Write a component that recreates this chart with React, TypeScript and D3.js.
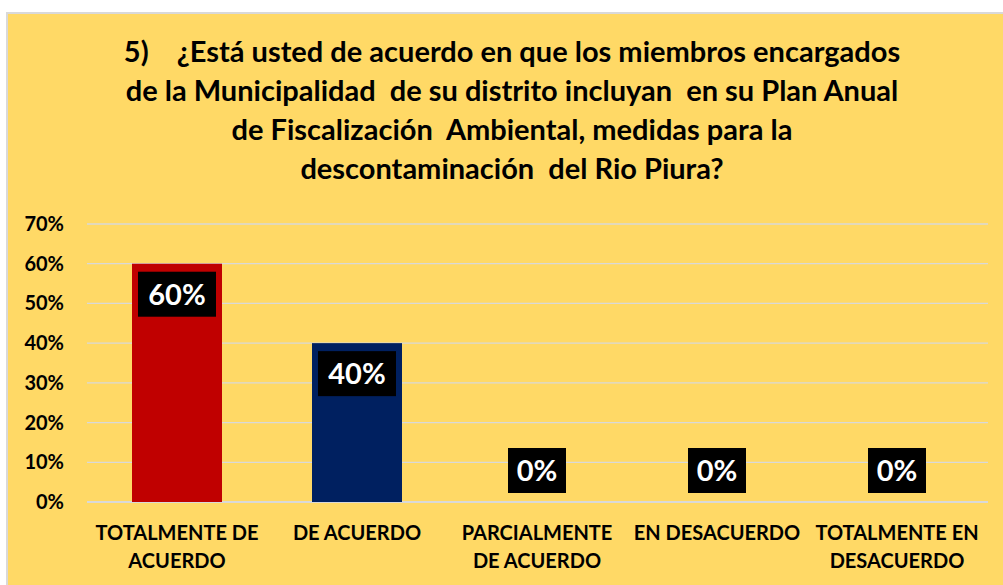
import * as React from 'react';
import * as d3 from 'd3';

const titleLines = [
  '5)    ¿Está usted de acuerdo en que los miembros encargados',
  'de la Municipalidad  de su distrito incluyan  en su Plan Anual',
  'de Fiscalización  Ambiental, medidas para la',
  'descontaminación  del Rio Piura?',
];
const categories = [
  ['TOTALMENTE DE', 'ACUERDO'],
  ['DE ACUERDO'],
  ['PARCIALMENTE', 'DE ACUERDO'],
  ['EN DESACUERDO'],
  ['TOTALMENTE EN', 'DESACUERDO'],
];
const values = [0.6, 0.4, 0, 0, 0];
const barColors = ['#C00000', '#002060', '#C00000', '#C00000', '#C00000'];
const ticks = [0, 0.1, 0.2, 0.3, 0.4, 0.5, 0.6, 0.7];

const W = 1003;
const H = 585;
const font = 'Lato, Calibri, "Liberation Sans", sans-serif';

const App: React.FC = () => {
  const left = 87;
  const right = 987;
  const top = 224;
  const bottom = 502;

  const x = d3.scaleBand<number>()
    .domain(categories.map((_, i) => i))
    .range([left, right])
    .paddingInner(0.5)
    .paddingOuter(0.25);
  const y = d3.scaleLinear().domain([0, 0.7]).range([bottom, top]);
  const fmt = d3.format('.0%');

  return (
    <svg width={W} height={H} style={{ position: 'absolute', left: 0, top: 0 }}>
      <rect x={0} y={0} width={W} height={H} fill="#fff" />
      <rect x={7} y={13} width={W} height={H} fill="#FFD966" stroke="#D9D9D9" strokeWidth={2} />
      {titleLines.map((t, i) => (
        <text key={i} x={512} y={62 + i * 39} textAnchor="middle" fontFamily={font}
          fontWeight={700} fontSize={29} fill="#000" style={{ whiteSpace: 'pre' }}>{t}</text>
      ))}
      {ticks.map(t => (
        <g key={t}>
          <line x1={left} x2={right + 1} y1={y(t)} y2={y(t)} stroke="#D9D9D9" strokeWidth={t === 0 ? 2 : 1.3} />
          <text x={64} y={y(t) + 7} textAnchor="end" fontFamily={font} fontWeight={700}
            fontSize={20} fill="#000">{fmt(t)}</text>
        </g>
      ))}
      {values.map((v, i) => {
        const bx = x(i)!;
        const bw = x.bandwidth();
        const cx = bx + bw / 2;
        const label = fmt(v);
        const boxW = label.length === 2 ? 58 : 78;
        const boxTop = v > 0 ? y(v) + 8 : y(0) - 54;
        return (
          <g key={i}>
            {v > 0 && (
              <rect x={bx} y={y(v)} width={bw} height={y(0) - y(v)} fill={barColors[i]} />
            )}
            <rect x={cx - boxW / 2} y={boxTop} width={boxW} height={45} fill="#000" />
            <text x={cx} y={boxTop + 33} textAnchor="middle" fontFamily={font} fontWeight={700}
              fontSize={29} fill="#fff">{label}</text>
          </g>
        );
      })}
      {categories.map((lines, i) => (
        <text key={i} textAnchor="middle" fontFamily={font} fontWeight={700} fontSize={20} fill="#000">
          {lines.map((l, j) => (
            <tspan key={j} x={x(i)! + x.bandwidth() / 2} y={540 + j * 28}>{l}</tspan>
          ))}
        </text>
      ))}
    </svg>
  );
};

export default App;
